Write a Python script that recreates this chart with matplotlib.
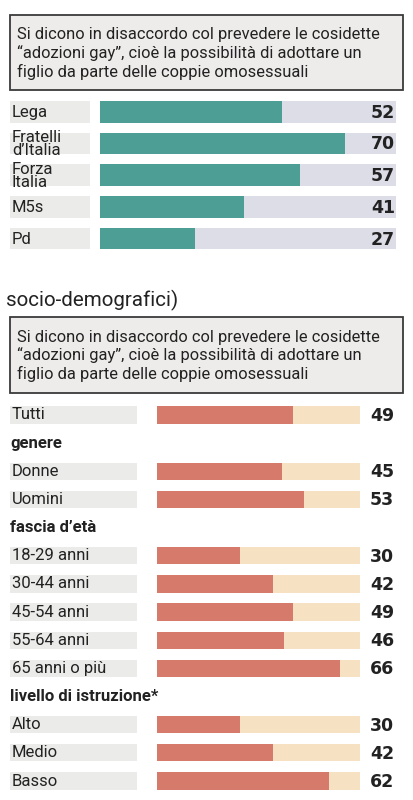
import matplotlib.pyplot as plt
from matplotlib.patches import Rectangle

# top chart: parties
parties = ["Lega", "Fratelli\nd\u2019Italia", "Forza\nItalia", "M5s", "Pd"]
party_vals = [52, 70, 57, 41, 27]

# bottom chart: socio-demographic groups (None = section header)
groups = ["Tutti", "genere", "Donne", "Uomini", "fascia d\u2019et\u00e0",
          "18-29 anni", "30-44 anni", "45-54 anni", "55-64 anni", "65 anni o pi\u00f9",
          "livello di istruzione*", "Alto", "Medio", "Basso"]
group_vals = [49, None, 45, 53, None, 30, 42, 49, 46, 66, None, 30, 42, 62]

question = ("Si dicono in disaccordo col prevedere le cosidette\n"
            "\u201cadozioni gay\u201d, cio\u00e8 la possibilit\u00e0 di adottare un\n"
            "figlio da parte delle coppie omosessuali")

W, H = 413, 800
FONT = "Roboto"
GREEN = "#4d9f95"
TRACK1 = "#dcdde6"
RED = "#d67a6b"
TRACK2 = "#f6e2c2"
LABBG = "#ebebea"

fig = plt.figure(figsize=(W / 100, H / 100), dpi=100)
bg = fig.add_axes([0, 0, 1, 1])
bg.set_xlim(0, W)
bg.set_ylim(H, 0)
bg.axis("off")


def question_box(y0, y1):
    bg.add_patch(Rectangle((10, y0), 393, y1 - y0, facecolor="#eeecea",
                           edgecolor="#3a3a3a", lw=1.3))
    bg.text(17, (y0 + y1) / 2 + 1, question, fontsize=11.9, family=FONT,
            color="#222222", va="center", ha="left", linespacing=1.22)


def bar_axes(y_top, y_bot, n):
    ax = fig.add_axes([0, 1 - y_bot / H, 1, (y_bot - y_top) / H])
    ax.set_ylim(n - 0.5, -0.5)
    ax.axis("off")
    return ax


question_box(15, 90)

# top bars: x px = 100 + 3.5 * v
ax1 = bar_axes(95.9, 254.4, len(parties))
ax1.set_xlim(-100 / 3.5, (W - 100) / 3.5)
h1 = 0.69
for i, (lab, v) in enumerate(zip(parties, party_vals)):
    ax1.barh(i, 22.86, left=-25.7, height=h1, color=LABBG)
    ax1.barh(i, 84.6, height=h1, color=TRACK1)
    ax1.barh(i, v, height=h1, color=GREEN)
    ax1.text(-25.2, i + 0.02, lab, fontsize=12, family=FONT, color="#222222",
             va="center", ha="left", linespacing=0.88)
    ax1.text(84.3, i + 0.03, str(v), fontsize=12.5, family="DejaVu Sans",
             weight="heavy", color="#222222", va="center", ha="right")

bg.text(6, 300, "socio-demografici)", fontsize=14.8, family=FONT,
        color="#222222", va="center", ha="left")

question_box(317, 393)

# bottom bars: x px = 157 + 2.77 * v
ax2 = bar_axes(400.9, 795.1, len(groups))
ax2.set_xlim(-157 / 2.77, (W - 157) / 2.77)
h2 = 0.61
for i, (lab, v) in enumerate(zip(groups, group_vals)):
    if v is None:
        ax2.text(-53.0, i, lab, fontsize=12, family=FONT, weight="bold",
                 color="#222222", va="center", ha="left")
        continue
    ax2.barh(i, 45.85, left=-53.07, height=h2, color=LABBG)
    ax2.barh(i, 73.3, height=h2, color=TRACK2)
    ax2.barh(i, v, height=h2, color=RED)
    ax2.text(-52.4, i, lab, fontsize=12, family=FONT, color="#222222",
             va="center", ha="left")
    ax2.text(85.6, i + 0.03, str(v), fontsize=12.5, family="DejaVu Sans",
             weight="heavy", color="#222222", va="center", ha="right")

fig.savefig("out.png", dpi=100, facecolor="white")
